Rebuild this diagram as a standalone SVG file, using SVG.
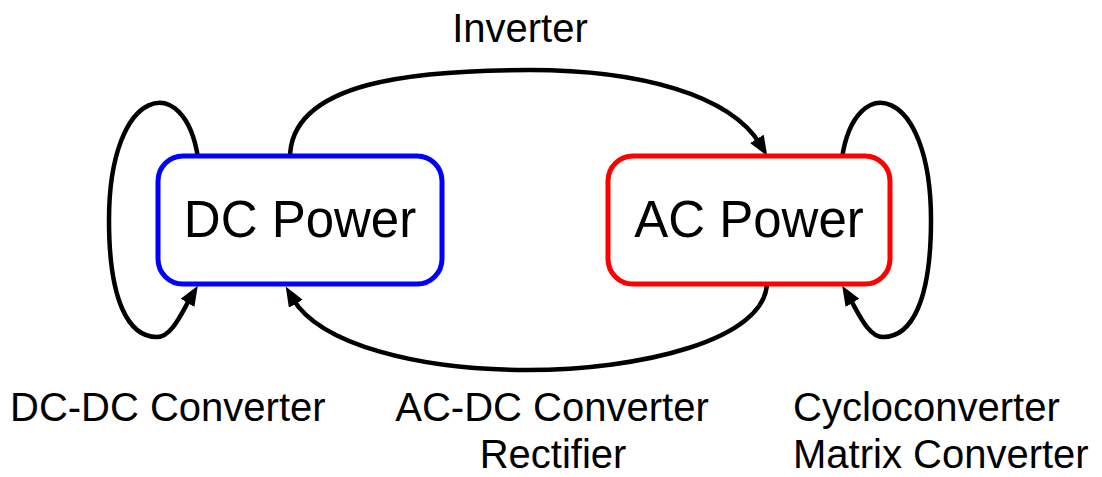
<svg xmlns="http://www.w3.org/2000/svg" width="1102" height="477" viewBox="0 0 1102 477">
  <style>
    .conn { fill: none; stroke: #000; stroke-width: 4.5; marker-end: url(#arrow); }
    .box { fill: #fff; stroke-width: 5; }
    .title { font-family: "Liberation Sans", Arial, sans-serif; font-size: 51px; fill: #000; text-anchor: middle; }
    .label { font-family: "Liberation Sans", Arial, sans-serif; font-size: 40px; fill: #000; }
  </style>
  <defs>
    <marker id="arrow" markerUnits="userSpaceOnUse" markerWidth="20" markerHeight="16" viewBox="0 0 20 16" refX="6" refY="8" orient="auto">
      <path d="M0,0 L20,8 L0,16 z" fill="#000"/>
    </marker>
  </defs>
  <rect width="1102" height="477" fill="#fff"/>
  <g id="connectors">
    <path class="conn" d="M290,158 C 290,80 420,70 530,70 C 640,70 730,95 760,144"/>
    <path class="conn" d="M767,282 C 767,340 640,370 527,370 C 420,370 320,345 292.8,298.6"/>
    <path class="conn" d="M198,158 C 185,70 109,85 109,220 C 109,300 128,337 157,337 C 172,337 182,312 190.6,297.7"/>
    <path class="conn" d="M842,158 C 855,70 931,85 931,220 C 931,300 912,337 883,337 C 868,337 858,312 849.4,297.7"/>
  </g>
  <g id="dc-power">
    <rect class="box" x="158" y="156" width="284" height="128" rx="25" stroke="#0000ff"/>
    <text class="title" x="300" y="237">DC Power</text>
  </g>
  <g id="ac-power">
    <rect class="box" x="608" y="156" width="282" height="128" rx="25" stroke="#ff0000"/>
    <text class="title" x="749" y="237">AC Power</text>
  </g>
  <g id="labels">
    <text class="label" x="520" y="42" text-anchor="middle">Inverter</text>
    <text class="label" x="10" y="421">DC-DC Converter</text>
    <text class="label" x="552" y="421" text-anchor="middle">AC-DC Converter</text>
    <text class="label" x="553" y="468" text-anchor="middle">Rectifier</text>
    <text class="label" x="793" y="421">Cycloconverter</text>
    <text class="label" x="793" y="468">Matrix Converter</text>
  </g>
</svg>
